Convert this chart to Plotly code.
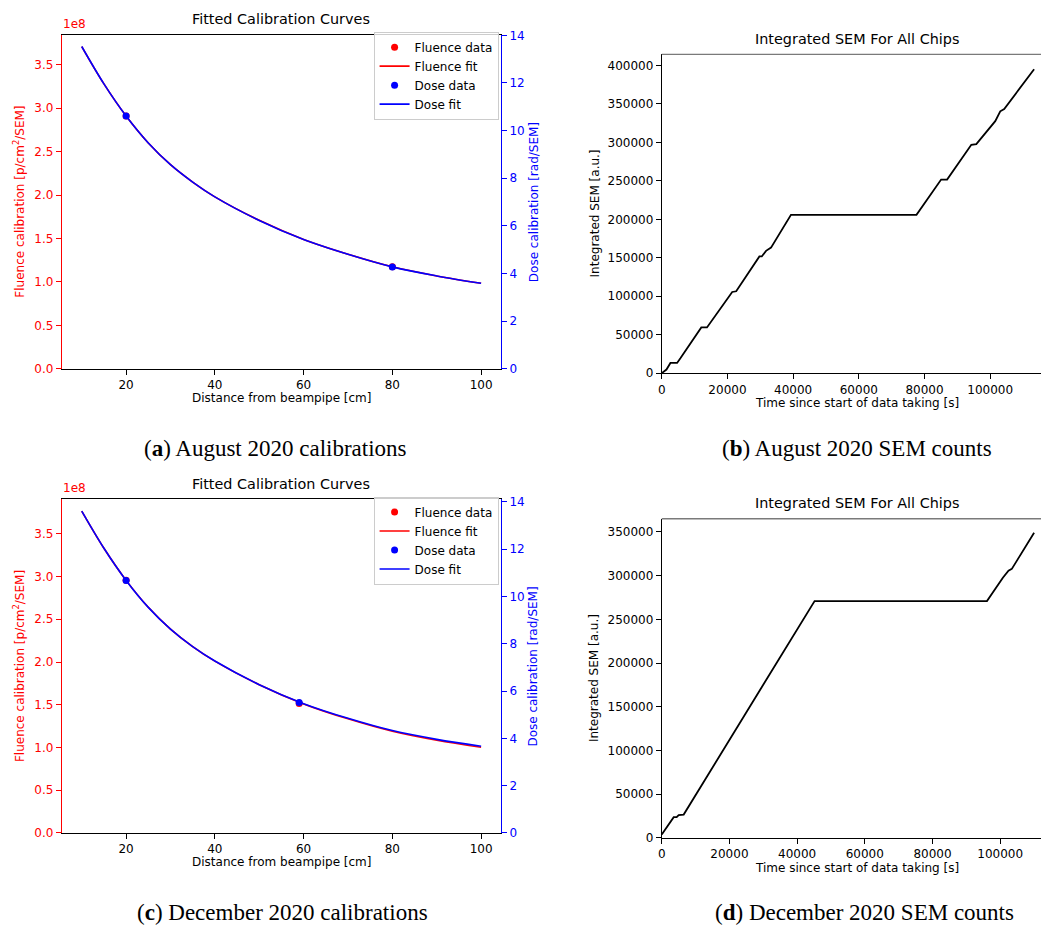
import plotly.graph_objects as go

W, H = 1041, 931
FONT = "DejaVu Sans"

# ---------------- (a) August 2020 calibrations ----------------
dist_fit = [10, 15, 20, 25, 30, 35, 40, 50, 60, 70, 80, 90, 100]
aug_fluence_fit = [3.71e8, 3.28e8, 2.91e8, 2.60e8, 2.35e8, 2.15e8, 1.98e8,
                   1.71e8, 1.49e8, 1.32e8, 1.175e8, 1.07e8, 0.985e8]
aug_dose_fit = [13.53, 11.96, 10.61, 9.48, 8.57, 7.84, 7.22,
                6.23, 5.43, 4.81, 4.28, 3.90, 3.59]
aug_dist_data = [20, 80]
aug_fluence_data = [2.91e8, 1.175e8]
aug_dose_data = [10.61, 4.28]

# ---------------- (c) December 2020 calibrations ----------------
dec_fluence_fit = [3.765e8, 3.33e8, 2.955e8, 2.64e8, 2.385e8, 2.18e8, 2.01e8,
                   1.735e8, 1.51e8, 1.335e8, 1.19e8, 1.085e8, 1.003e8]
dec_dose_fit = [13.61, 12.04, 10.68, 9.54, 8.62, 7.88, 7.27,
                6.27, 5.47, 4.85, 4.33, 3.96, 3.67]
dec_dist_data = [20, 59]
dec_fluence_data = [2.955e8, 1.515e8]
dec_dose_data = [10.68, 5.52]

# ---------------- (b) August 2020 SEM counts ----------------
aug_time = [0, 1430, 2640, 4670, 5670, 12040, 13770, 21450, 22660, 29730,
            30450, 31750, 33270, 39340, 77560, 85060, 86880, 94250, 95770,
            101540, 103060, 104270, 113370]
aug_sem = [0, 4600, 13200, 13200, 19200, 59400, 59400, 105500, 106400, 151700,
           151700, 159000, 163200, 205900, 205900, 251700, 251700, 296900, 297800,
           327700, 340500, 343500, 395200]

# ---------------- (d) December 2020 SEM counts ----------------
dec_time = [0, 3530, 4400, 5000, 6480, 45160, 96100, 100020, 100800,
            102460, 103450, 110030]
dec_sem = [4000, 23700, 23900, 26200, 26700, 270900, 270900, 294400, 297500,
           305700, 307600, 349000]

fluence_ticks = [0.0, 0.5, 1.0, 1.5, 2.0, 2.5, 3.0, 3.5]
dist_ticks = [20, 40, 60, 80, 100]
time_ticks = [0, 20000, 40000, 60000, 80000, 100000]

RED, BLUE = "#ff0000", "#0000ff"


def dom_x(a, b):
    return [a / W, b / W]


def dom_y(top, bottom):
    return [1 - bottom / H, 1 - top / H]


fig = go.Figure()


def add_calib(xa, ya, yb, leg, dd, fd, dod, ff, dof):
    fig.add_trace(go.Scatter(x=dd, y=fd, mode="markers", name="Fluence data",
                             marker=dict(color=RED, size=7), xaxis=xa, yaxis=ya, legend=leg))
    fig.add_trace(go.Scatter(x=dist_fit, y=ff, mode="lines", name="Fluence fit",
                             line=dict(color=RED, width=1.6, shape="spline"),
                             xaxis=xa, yaxis=ya, legend=leg))
    fig.add_trace(go.Scatter(x=dd, y=dod, mode="markers", name="Dose data",
                             marker=dict(color=BLUE, size=7), xaxis=xa, yaxis=yb, legend=leg))
    fig.add_trace(go.Scatter(x=dist_fit, y=dof, mode="lines", name="Dose fit",
                             line=dict(color=BLUE, width=1.6, shape="spline"),
                             xaxis=xa, yaxis=yb, legend=leg))


add_calib("x", "y", "y2", "legend", aug_dist_data, aug_fluence_data, aug_dose_data,
          aug_fluence_fit, aug_dose_fit)
add_calib("x3", "y4", "y5", "legend2", dec_dist_data, dec_fluence_data, dec_dose_data,
          dec_fluence_fit, dec_dose_fit)

fig.add_trace(go.Scatter(x=aug_time, y=aug_sem, mode="lines", showlegend=False,
                         line=dict(color="black", width=1.8), xaxis="x2", yaxis="y3"))
fig.add_trace(go.Scatter(x=dec_time, y=dec_sem, mode="lines", showlegend=False,
                         line=dict(color="black", width=1.8), xaxis="x4", yaxis="y6"))

tickfont_k = dict(family=FONT, size=12, color="black")


def xcal(anchor, rng):
    return dict(domain=dom_x(58, 499), range=rng, anchor=anchor, showline=True,
                linecolor="black", linewidth=1, mirror=True, ticks="outside", ticklen=5,
                tickcolor="black", tickvals=dist_ticks, showgrid=False, zeroline=False,
                tickfont=tickfont_k)


def yfl(anchor, dom, top):
    return dict(domain=dom, range=[0, top], anchor=anchor, showline=True, linecolor=RED,
                linewidth=1, ticks="outside", ticklen=5, tickcolor=RED,
                tickvals=[v * 1e8 for v in fluence_ticks],
                ticktext=[f"{v:.1f}" for v in fluence_ticks],
                showgrid=False, zeroline=False,
                tickfont=dict(family=FONT, size=12, color=RED))


def ydose(anchor, over, top):
    return dict(overlaying=over, side="right", anchor=anchor, range=[0, top],
                showline=True, linecolor=BLUE, linewidth=1, ticks="outside", ticklen=5,
                tickcolor=BLUE, tick0=0, dtick=2, showgrid=False, zeroline=False,
                tickfont=dict(family=FONT, size=12, color=BLUE))


def xsem(anchor, rng):
    return dict(domain=dom_x(660.3, 1041), range=rng, anchor=anchor, showline=True,
                linecolor="black", linewidth=1, ticks="outside", ticklen=5,
                tickcolor="black", tickvals=time_ticks, tickformat="d",
                showgrid=False, zeroline=False, tickfont=tickfont_k)


def ysem(anchor, dom, top):
    return dict(domain=dom, range=[0, top], anchor=anchor, showline=True,
                linecolor="black", linewidth=1, ticks="outside", ticklen=5,
                tickcolor="black", tick0=0, dtick=50000, tickformat="d",
                showgrid=False, zeroline=False, tickfont=tickfont_k)


legend_style = dict(xanchor="left", yanchor="top", bgcolor="rgba(255,255,255,0.8)",
                    bordercolor="#cccccc", borderwidth=1,
                    font=dict(family=FONT, size=12, color="black"),
                    traceorder="normal", itemwidth=30)

fig.update_layout(
    width=W, height=H, margin=dict(l=0, r=0, t=0, b=0),
    paper_bgcolor="white", plot_bgcolor="white",
    font=dict(family=FONT, size=12, color="black"),
    xaxis=xcal("y", [5.5, 104.5]),
    yaxis=yfl("x", dom_y(29, 368), 3.848e8),
    yaxis2=ydose("x", "y", 14.03),
    xaxis2=xsem("y3", [0, 115470]),
    yaxis3=ysem("x2", dom_y(49, 372.3), 414600),
    xaxis3=xcal("y4", [5.5, 104.5]),
    yaxis4=yfl("x3", dom_y(500.3, 838.7), 3.903e8),
    yaxis5=ydose("x3", "y4", 14.11),
    xaxis4=xsem("y6", [0, 112070]),
    yaxis6=ysem("x4", dom_y(520, 843.7), 365000),
    legend=dict(x=371 / W, y=1 - 26 / H, **legend_style),
    legend2=dict(x=371 / W, y=1 - 497.5 / H, **legend_style),
)

# gray top spines of the SEM panels
for xr, yr in (("x2", "y3"), ("x4", "y6")):
    fig.add_shape(type="line", xref=f"{xr} domain", yref=f"{yr} domain",
                  x0=0, x1=1, y0=1, y1=1, line=dict(color="#7a7a7a", width=1.3))


def ann(text, x, y, size=12, color="black", angle=0, family=FONT, xanchor="center"):
    fig.add_annotation(text=text, x=x / W, y=1 - y / H, xref="paper", yref="paper",
                       showarrow=False, textangle=angle, xanchor=xanchor, yanchor="middle",
                       font=dict(family=family, size=size, color=color))


for cy, ptop, pbot in ((198.5, 29, 368), (669.5, 500.3, 838.7)):
    ann("Fitted Calibration Curves", 278.5, ptop - 15.5, size=14.4)
    ann("1e8", 57, ptop - 11, color=RED, xanchor="left")
    ann("Fluence calibration [p/cm<sup>2</sup>/SEM]", 15, cy, color=RED, angle=-90)
    ann("Dose calibration [rad/SEM]", 531.5, cy, color=BLUE, angle=-90)
    ann("Distance from beampipe [cm]", 278.5, pbot + 29.7)

for ptop, pbot in ((49, 372.3), (520, 843.7)):
    ann("Integrated SEM For All Chips", 856.3, ptop - 16, size=14.4)
    ann("Integrated SEM [a.u.]", 593, (ptop + pbot) / 2, angle=-90)
    ann("Time since start of data taking [s]", 856.3, pbot + 30)

SERIF = "Liberation Serif"
ann("(<b>a</b>) August 2020 calibrations", 273, 449, size=23, family=SERIF)
ann("(<b>b</b>) August 2020 SEM counts", 856.5, 449, size=23, family=SERIF)
ann("(<b>c</b>) December 2020 calibrations", 279.5, 919, size=23, family=SERIF)
ann("(<b>d</b>) December 2020 SEM counts", 864, 919, size=23, family=SERIF)

fig.write_html(
    "out.html",
    config={"displayModeBar": False},
    post_script="document.body.style.margin='0';document.body.style.padding='0';"
                "document.body.style.overflow='hidden';",
)
